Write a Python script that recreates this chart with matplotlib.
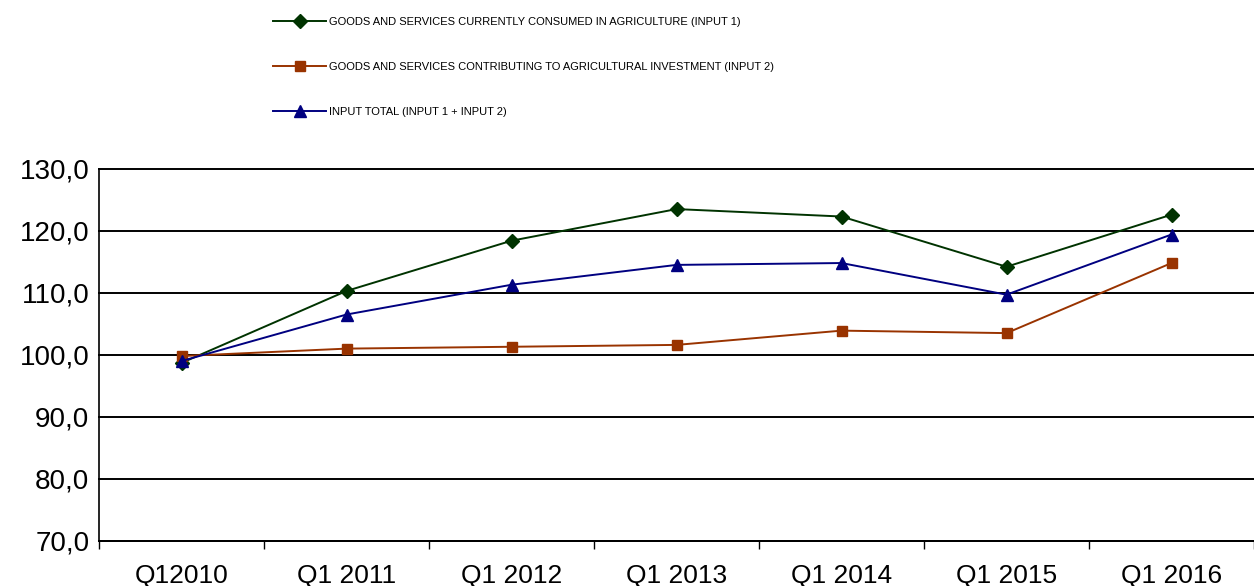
import matplotlib
matplotlib.use("Agg")
import matplotlib.pyplot as plt

categories = ["Q12010", "Q1 2011", "Q1 2012", "Q1 2013", "Q1 2014", "Q1 2015", "Q1 2016"]
input1 = [98.7, 110.3, 118.4, 123.5, 122.3, 114.2, 122.6]
input2 = [99.8, 101.0, 101.3, 101.6, 103.9, 103.5, 114.8]
total = [99.0, 106.5, 111.3, 114.5, 114.8, 109.7, 119.4]
labels = ["GOODS AND SERVICES CURRENTLY CONSUMED IN AGRICULTURE (INPUT 1)",
          "GOODS AND SERVICES CONTRIBUTING TO AGRICULTURAL INVESTMENT (INPUT 2)",
          "INPUT TOTAL (INPUT 1 + INPUT 2)"]
yticks = [70, 80, 90, 100, 110, 120, 130]

plt.rcParams['font.family'] = ['Liberation Sans', 'DejaVu Sans']

fig = plt.figure(figsize=(12.54, 5.86), dpi=100)
ax = fig.add_axes([0.079, 0.077, 0.921, 0.635])

x = list(range(len(categories)))
l1, = ax.plot(x, input1, color="#003300", marker="D", markersize=7, linewidth=1.4, label=labels[0])
l2, = ax.plot(x, input2, color="#993300", marker="s", markersize=7.5, linewidth=1.4, label=labels[1])
l3, = ax.plot(x, total, color="#000080", marker="^", markersize=8.5, linewidth=1.4, label=labels[2])

ax.set_xlim(-0.5, len(categories) - 0.5)
ax.set_ylim(70, 130)
ax.set_yticks(yticks)
ax.set_yticklabels([f"{v:.1f}".replace(".", ",") for v in yticks], fontsize=20)
for v in yticks:
    ax.axhline(v, color="black", linewidth=1.4, zorder=0.5, clip_on=False)

ax.set_xticks(x)
ax.set_xticklabels(categories, fontsize=19)
ax.tick_params(axis='x', which='major', length=0, pad=17)
ax.set_xticks([i - 0.5 for i in range(len(categories) + 1)], minor=True)
ax.tick_params(axis='x', which='minor', length=6, width=1, direction='out', color='black')
ax.tick_params(axis='y', length=0, pad=7)

for s in ["top", "right"]:
    ax.spines[s].set_visible(False)
ax.spines["left"].set_linewidth(1.2)
ax.spines["bottom"].set_linewidth(1.4)

leg = fig.legend(handles=[l1, l2, l3], loc="upper left", bbox_to_anchor=(0.211, 0.986),
                 frameon=False, prop={'size': 8},
                 labelspacing=3.15, handlelength=4.7, handletextpad=0.3, borderaxespad=0.4)

fig.savefig("out.png", dpi=100)
